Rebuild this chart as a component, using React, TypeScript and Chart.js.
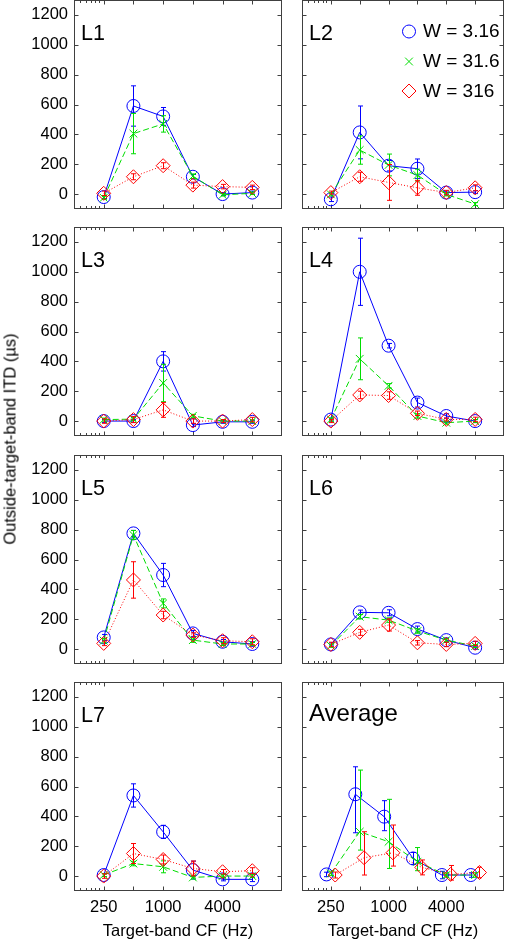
import React, { useEffect, useRef } from "react";
import { Chart, registerables } from "chart.js";

Chart.register(...registerables);

// ---------- data ----------
const CF = [250, 500, 1000, 2000, 4000, 8000];
const X_TICK_LABELS = [250, 1000, 4000];
const X_MAJOR_TICKS = [250, 500, 1000, 2000, 4000, 8000];
const X_MINOR_TICKS = [145, 165, 185, 205, 225];
const Y_TICKS = [0, 200, 400, 600, 800, 1000, 1200];
const X_MIN = 125;
const X_MAX = 16000;
const Y_MIN = -100;
const Y_MAX = 1300;

const SERIES_LABELS = ["W = 3.16", "W = 31.6", "W = 316"];
const X_TITLE = "Target-band CF (Hz)";
const Y_TITLE = "Outside-target-band ITD (\u00b5s)";

// L1
const L1_W3 = [-20, 590, 520, 116, 0, 10];
const L1_W3_ERR = [10, 135, 60, 15, 10, 10];
const L1_W31 = [-25, 405, 470, 120, -5, 5];
const L1_W31_ERR = [10, 135, 55, 15, 8, 8];
const L1_W316 = [5, 116, 190, 60, 50, 45];
const L1_W316_ERR = [15, 20, 20, 20, 15, 15];
// L2
const L2_W3 = [-35, 413, 190, 170, 10, 13];
const L2_W3_ERR = [15, 177, 35, 65, 10, 10];
const L2_W31 = [-2, 295, 195, 127, -2, -67];
const L2_W31_ERR = [10, 95, 73, 40, 10, 10];
const L2_W316 = [10, 116, 78, 42, 10, 42];
const L2_W316_ERR = [10, 30, 120, 50, 15, 20];
// L3
const L3_W3 = [0, 0, 400, -27, -5, -5];
const L3_W3_ERR = [10, 10, 65, 10, 10, 10];
const L3_W31 = [10, 13, 255, 35, 0, 0];
const L3_W31_ERR = [10, 10, 125, 10, 8, 8];
const L3_W316 = [0, 10, 75, 0, 0, 10];
const L3_W316_ERR = [15, 20, 50, 15, 10, 15];
// L4
const L4_W3 = [10, 1000, 505, 124, 34, 0];
const L4_W3_ERR = [10, 225, 15, 30, 15, 10];
const L4_W31 = [10, 417, 236, 34, -11, 0];
const L4_W31_ERR = [10, 140, 15, 15, 10, 10];
const L4_W316 = [0, 175, 171, 52, 11, 11];
const L4_W316_ERR = [10, 25, 25, 15, 10, 15];
// L5
const L5_W3 = [78, 775, 496, 105, 49, 34];
const L5_W3_ERR = [20, 20, 78, 20, 15, 15];
const L5_W31 = [56, 764, 306, 60, 34, 34];
const L5_W31_ERR = [15, 30, 30, 15, 10, 10];
const L5_W316 = [38, 463, 228, 94, 56, 49];
const L5_W316_ERR = [15, 122, 25, 15, 20, 20];
// L6
const L6_W3 = [31, 246, 243, 134, 60, 9];
const L6_W3_ERR = [10, 15, 20, 20, 15, 10];
const L6_W31 = [22, 217, 194, 121, 60, 20];
const L6_W31_ERR = [10, 15, 15, 15, 10, 10];
const L6_W316 = [31, 112, 161, 42, 31, 38];
const L6_W316_ERR = [15, 20, 40, 15, 15, 15];
// L7
const L7_W3 = [7, 540, 296, 40, -22, -22];
const L7_W3_ERR = [10, 78, 44, 60, 10, 15];
const L7_W31 = [7, 84, 62, -9, 0, 0];
const L7_W31_ERR = [10, 15, 40, 10, 10, 10];
const L7_W316 = [0, 151, 111, 51, 29, 36];
const L7_W316_ERR = [15, 67, 30, 50, 15, 20];
// Average (asymmetric error bars)
const AVG_W3 = [11, 548, 398, 118, 7, 7];
const AVG_W3_HI = [15, 184, 107, 40, 25, 15];
const AVG_W3_LO = [15, 258, 94, 40, 25, 15];
const AVG_W31 = [18, 297, 230, 96, 7, 7];
const AVG_W31_HI = [15, 413, 284, 95, 15, 15];
const AVG_W31_LO = [15, 123, 179, 60, 15, 15];
const AVG_W316 = [7, 123, 156, 58, 11, 24];
const AVG_W316_HI = [20, 174, 186, 50, 60, 35];
const AVG_W316_LO = [20, 116, 89, 50, 38, 35];
const AVG_JITTER = [0.9, 1, 1.11];
const NO_JITTER = [1, 1, 1];

type PanelDef = {
  name: string;
  vals: number[][];
  hi: number[][];
  lo: number[][];
  jitter: number[];
  legend?: boolean;
};

const sym = (name: string, v: number[][], e: number[][], legend = false): PanelDef => ({
  name,
  vals: v,
  hi: e,
  lo: e,
  jitter: NO_JITTER,
  legend,
});

const PANELS: PanelDef[] = [
  sym("L1", [L1_W3, L1_W31, L1_W316], [L1_W3_ERR, L1_W31_ERR, L1_W316_ERR]),
  sym("L2", [L2_W3, L2_W31, L2_W316], [L2_W3_ERR, L2_W31_ERR, L2_W316_ERR], true),
  sym("L3", [L3_W3, L3_W31, L3_W316], [L3_W3_ERR, L3_W31_ERR, L3_W316_ERR]),
  sym("L4", [L4_W3, L4_W31, L4_W316], [L4_W3_ERR, L4_W31_ERR, L4_W316_ERR]),
  sym("L5", [L5_W3, L5_W31, L5_W316], [L5_W3_ERR, L5_W31_ERR, L5_W316_ERR]),
  sym("L6", [L6_W3, L6_W31, L6_W316], [L6_W3_ERR, L6_W31_ERR, L6_W316_ERR]),
  sym("L7", [L7_W3, L7_W31, L7_W316], [L7_W3_ERR, L7_W31_ERR, L7_W316_ERR]),
  {
    name: "Average",
    vals: [AVG_W3, AVG_W31, AVG_W316],
    hi: [AVG_W3_HI, AVG_W31_HI, AVG_W316_HI],
    lo: [AVG_W3_LO, AVG_W31_LO, AVG_W316_LO],
    jitter: AVG_JITTER,
  },
];

// ---------- styles ----------
const FONT = '"Liberation Sans", Arial, Helvetica, sans-serif';
const FRAME_COLOR = "#404040";
const STYLES = [
  { color: "#0000ff", pointStyle: "circle", radius: 6.5, dash: [] as number[] },
  { color: "#00dd00", pointStyle: "crossRot", radius: 5.5, dash: [6, 3] },
  { color: "#ff0000", pointStyle: "rectRot", radius: 7, dash: [1, 2] },
];

const AREA = 209;
const COL_AREA_LEFT = [74, 301];
const COL_CANVAS_LEFT = [0, 294];
const COL_RIGHT_PAD = [7, 2];
const ROW_TOP = [0, 227, 455, 682];
const PAD_TOP = 8;

const framePlugin = {
  id: "frame",
  beforeDatasetsDraw(chart: any) {
    const { ctx, chartArea: a, scales } = chart;
    const xs = scales.x;
    const ys = scales.y;
    ctx.save();
    ctx.strokeStyle = FRAME_COLOR;
    ctx.lineWidth = 1;
    const L = Math.round(a.left) + 0.5;
    const R = Math.round(a.right) - 0.5;
    const T = Math.round(a.top) + 0.5;
    const B = Math.round(a.bottom) - 0.5;
    ctx.strokeRect(L, T, R - L, B - T);
    ctx.beginPath();
    for (const v of X_MAJOR_TICKS) {
      const px = Math.round(xs.getPixelForValue(v)) + 0.5;
      ctx.moveTo(px, B);
      ctx.lineTo(px, B - 4);
      ctx.moveTo(px, T);
      ctx.lineTo(px, T + 4);
    }
    for (const v of X_MINOR_TICKS) {
      const px = Math.round(xs.getPixelForValue(v)) + 0.5;
      ctx.moveTo(px, B);
      ctx.lineTo(px, B - 2.5);
      ctx.moveTo(px, T);
      ctx.lineTo(px, T + 2.5);
    }
    for (const v of Y_TICKS) {
      const py = Math.round(ys.getPixelForValue(v)) + 0.5;
      ctx.moveTo(L, py);
      ctx.lineTo(L + 4, py);
      ctx.moveTo(R, py);
      ctx.lineTo(R - 4, py);
    }
    ctx.stroke();
    ctx.restore();
  },
};

const errorBarPlugin = {
  id: "errbars",
  afterDatasetDraw(chart: any, args: any) {
    const ds = chart.data.datasets[args.index];
    const meta = args.meta;
    const ys = chart.scales.y;
    const { ctx } = chart;
    ctx.save();
    ctx.strokeStyle = ds.borderColor;
    ctx.lineWidth = 1;
    ctx.setLineDash([]);
    ctx.beginPath();
    meta.data.forEach((el: any, i: number) => {
      const v = ds.data[i].y;
      const yTop = ys.getPixelForValue(v + ds.errHi[i]);
      const yBot = ys.getPixelForValue(v - ds.errLo[i]);
      const x = Math.round(el.x) + 0.5;
      ctx.moveTo(x, yTop);
      ctx.lineTo(x, yBot);
      ctx.moveTo(x - 2.5, yTop);
      ctx.lineTo(x + 2.5, yTop);
      ctx.moveTo(x - 2.5, yBot);
      ctx.lineTo(x + 2.5, yBot);
    });
    ctx.stroke();
    ctx.restore();
  },
};

function drawMarker(ctx: CanvasRenderingContext2D, s: number, x: number, y: number) {
  const st = STYLES[s];
  ctx.strokeStyle = st.color;
  ctx.lineWidth = 1;
  ctx.beginPath();
  if (st.pointStyle === "circle") {
    ctx.arc(x, y, st.radius, 0, Math.PI * 2);
  } else if (st.pointStyle === "crossRot") {
    const d = st.radius * Math.SQRT1_2;
    ctx.moveTo(x - d, y - d);
    ctx.lineTo(x + d, y + d);
    ctx.moveTo(x - d, y + d);
    ctx.lineTo(x + d, y - d);
  } else {
    const r = st.radius;
    ctx.moveTo(x - r, y);
    ctx.lineTo(x, y - r);
    ctx.lineTo(x + r, y);
    ctx.lineTo(x, y + r);
    ctx.closePath();
  }
  ctx.stroke();
}

const labelPlugin = {
  id: "panelLabel",
  afterDraw(chart: any, _args: any, opts: any) {
    const { ctx, chartArea: a } = chart;
    ctx.save();
    ctx.fillStyle = "#000";
    ctx.textBaseline = "alphabetic";
    ctx.textAlign = "left";
    const isAvg = opts.name === "Average";
    ctx.font = `${isAvg ? 24 : 21.5}px ${FONT}`;
    ctx.fillText(opts.name, a.left + 7, a.top + (isAvg ? 39 : 40));
    if (opts.legend) {
      const rows = [31.5, 61.5, 91];
      ctx.font = `19px ${FONT}`;
      ctx.textBaseline = "middle";
      rows.forEach((dy, s) => {
        drawMarker(ctx, s, a.left + 107, a.top + dy);
        ctx.fillStyle = "#000";
        ctx.fillText(SERIES_LABELS[s], a.left + 121, a.top + dy + 0.5);
      });
    }
    ctx.restore();
  },
};

function canvasGeom(idx: number) {
  const col = idx % 2;
  const row = Math.floor(idx / 2);
  const bottomH = row === 3 ? 50 : 8;
  const yAxisW = COL_AREA_LEFT[col] - COL_CANVAS_LEFT[col];
  return {
    col,
    row,
    left: COL_CANVAS_LEFT[col],
    top: ROW_TOP[row] - PAD_TOP,
    width: yAxisW + AREA + COL_RIGHT_PAD[col],
    height: PAD_TOP + AREA + bottomH,
    bottomH,
    yAxisW,
  };
}

function makeChart(canvas: HTMLCanvasElement, idx: number) {
  const p = PANELS[idx];
  const g = canvasGeom(idx);
  const isLeft = g.col === 0;
  const isBottom = g.row === 3;
  const datasets = p.vals.map((vals, s) => {
    const st = STYLES[s];
    return {
      label: SERIES_LABELS[s],
      data: CF.map((cf, i) => ({ x: cf * p.jitter[s], y: vals[i] })),
      errHi: p.hi[s],
      errLo: p.lo[s],
      borderColor: st.color,
      backgroundColor: "rgba(0,0,0,0)",
      borderWidth: 1,
      borderDash: st.dash,
      pointStyle: st.pointStyle,
      pointRadius: st.radius,
      pointBorderColor: st.color,
      pointBackgroundColor: "rgba(0,0,0,0)",
      pointBorderWidth: 1,
      tension: 0,
      fill: false,
      clip: false as any,
      order: 3 - s,
    };
  });
  return new Chart(canvas, {
    type: "line",
    data: { datasets: datasets as any },
    options: {
      animation: false,
      responsive: false,
      devicePixelRatio: 1,
      events: [],
      layout: { padding: { top: PAD_TOP, right: COL_RIGHT_PAD[g.col], left: 0, bottom: 0 } },
      plugins: {
        legend: { display: false },
        tooltip: { enabled: false },
        panelLabel: { name: p.name, legend: !!p.legend },
      } as any,
      scales: {
        x: {
          type: "logarithmic",
          min: X_MIN,
          max: X_MAX,
          grid: { display: false, drawTicks: false },
          border: { display: false },
          afterBuildTicks: (scale: any) => {
            scale.ticks = X_TICK_LABELS.map((v) => ({ value: v }));
          },
          afterFit: (scale: any) => {
            scale.height = g.bottomH;
            scale.paddingLeft = 0;
            scale.paddingRight = 0;
            scale.paddingTop = 0;
            scale.paddingBottom = 0;
          },
          ticks: {
            display: isBottom,
            autoSkip: false,
            maxRotation: 0,
            minRotation: 0,
            padding: 7,
            color: "#000",
            font: { family: FONT, size: 16.5 },
            callback: (v: any) => String(v),
          },
          title: {
            display: isBottom,
            text: X_TITLE,
            color: "#000",
            font: { family: FONT, size: 16.5 },
            padding: { top: 0, bottom: 0 },
          },
        },
        y: {
          type: "linear",
          min: Y_MIN,
          max: Y_MAX,
          grid: { display: false, drawTicks: false },
          border: { display: false },
          afterBuildTicks: (scale: any) => {
            scale.ticks = Y_TICKS.map((v) => ({ value: v }));
          },
          afterFit: (scale: any) => {
            scale.width = g.yAxisW;
            scale.paddingLeft = 0;
            scale.paddingRight = 0;
            scale.paddingTop = 0;
            scale.paddingBottom = 0;
          },
          ticks: {
            display: isLeft,
            padding: 6,
            color: "#000",
            font: { family: FONT, size: 16.5 },
            callback: (v: any) => String(v),
          },
        },
      },
    } as any,
    plugins: [framePlugin, errorBarPlugin, labelPlugin],
  });
}

export default function App() {
  const refs = useRef<(HTMLCanvasElement | null)[]>([]);
  useEffect(() => {
    const charts = PANELS.map((_, i) => makeChart(refs.current[i] as HTMLCanvasElement, i));
    return () => charts.forEach((c) => c.destroy());
  }, []);
  return (
    <div
      style={{
        position: "absolute",
        left: 0,
        top: 0,
        width: 511,
        height: 941,
        overflow: "hidden",
        background: "#fff",
      }}
    >
      {PANELS.map((p, i) => {
        const g = canvasGeom(i);
        return (
          <canvas
            key={p.name}
            ref={(el) => {
              refs.current[i] = el;
            }}
            width={g.width}
            height={g.height}
            style={{
              position: "absolute",
              left: g.left,
              top: g.top,
              width: g.width,
              height: g.height,
            }}
          />
        );
      })}
      <div
        style={{
          position: "absolute",
          left: 10,
          top: 439,
          transform: "translate(-50%, -50%) rotate(-90deg)",
          whiteSpace: "nowrap",
          font: `16.5px ${FONT}`,
          color: "#000",
        }}
      >
        {Y_TITLE}
      </div>
    </div>
  );
}
